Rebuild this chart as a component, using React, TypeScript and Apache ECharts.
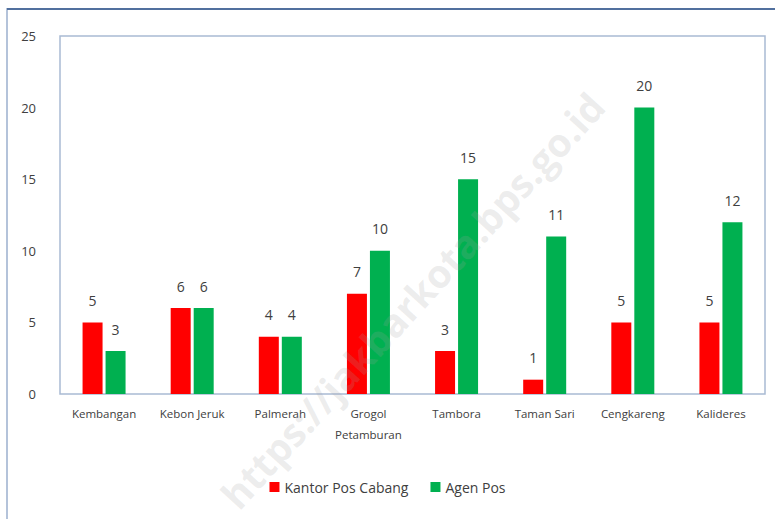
import React, { useEffect, useRef } from "react";
import * as echarts from "echarts";

const categories = ["Kembangan", "Kebon Jeruk", "Palmerah", "Grogol\nPetamburan", "Tambora", "Taman Sari", "Cengkareng", "Kalideres"];
const kantorPosCabang = [5, 6, 4, 7, 3, 1, 5, 5];
const agenPos = [3, 6, 4, 10, 15, 11, 20, 12];
const seriesNames = ["Kantor Pos Cabang", "Agen Pos"];

export default function App() {
  const ref = useRef<HTMLDivElement>(null);
  useEffect(() => {
    const chart = echarts.init(ref.current!, null, { renderer: "svg" });
    const font = "'Open Sans', 'DejaVu Sans', sans-serif";
    chart.setOption({
      animation: false,
      backgroundColor: "#ffffff",
      textStyle: { fontFamily: font },
      grid: { left: 60, right: 10, top: 36, bottom: 125, show: true, borderColor: "#a9bad3", borderWidth: 1.5 },
      legend: {
        bottom: 20,
        left: "center",
        itemWidth: 10,
        itemHeight: 10,
        itemGap: 22,
        icon: "rect",
        textStyle: { fontSize: 14, color: "#404040", fontFamily: font },
        data: seriesNames,
      },
      xAxis: {
        type: "category",
        data: categories,
        axisLine: { show: false },
        axisTick: { show: false },
        axisLabel: { fontSize: 11.5, color: "#404040", interval: 0, margin: 9, lineHeight: 21 },
      },
      yAxis: {
        type: "value",
        min: 0,
        max: 25,
        interval: 5,
        splitLine: { show: false },
        axisLine: { show: false },
        axisLabel: { fontSize: 13, color: "#404040", margin: 24 },
      },
      series: [
        {
          name: seriesNames[0],
          type: "bar",
          data: kantorPosCabang,
          barWidth: 20,
          barGap: "15%",
          itemStyle: { color: "#ff0000" },
          label: { show: true, position: "top", fontSize: 14, color: "#404040", distance: 15 },
        },
        {
          name: seriesNames[1],
          type: "bar",
          data: agenPos,
          barWidth: 20,
          itemStyle: { color: "#00b050" },
          label: { show: true, position: "top", fontSize: 14, color: "#404040", distance: 15 },
        },
      ],
      graphic: [
        {
          type: "rect",
          shape: { x: 7, y: 9, width: 780, height: 530 },
          style: { fill: "none", stroke: "#b4c3da", lineWidth: 2 },
          silent: true,
        },
        {
          type: "line",
          shape: { x1: 7, y1: 9, x2: 775, y2: 9 },
          style: { stroke: "#51709e", lineWidth: 2 },
          silent: true,
        },
        {
          type: "text",
          x: 412,
          y: 300,
          rotation: 0.83,
          style: {
            text: "https://jakbarkota.bps.go.id",
            font: "bold 39px 'Open Sans', sans-serif",
            fill: "rgba(160,160,160,0.2)",
            align: "center",
            verticalAlign: "middle",
          },
          silent: true,
          z: 100,
        },
      ],
    });
    return () => chart.dispose();
  }, []);
  return <div ref={ref} style={{ position: "fixed", left: 0, top: 0, width: 775, height: 519 }} />;
}
